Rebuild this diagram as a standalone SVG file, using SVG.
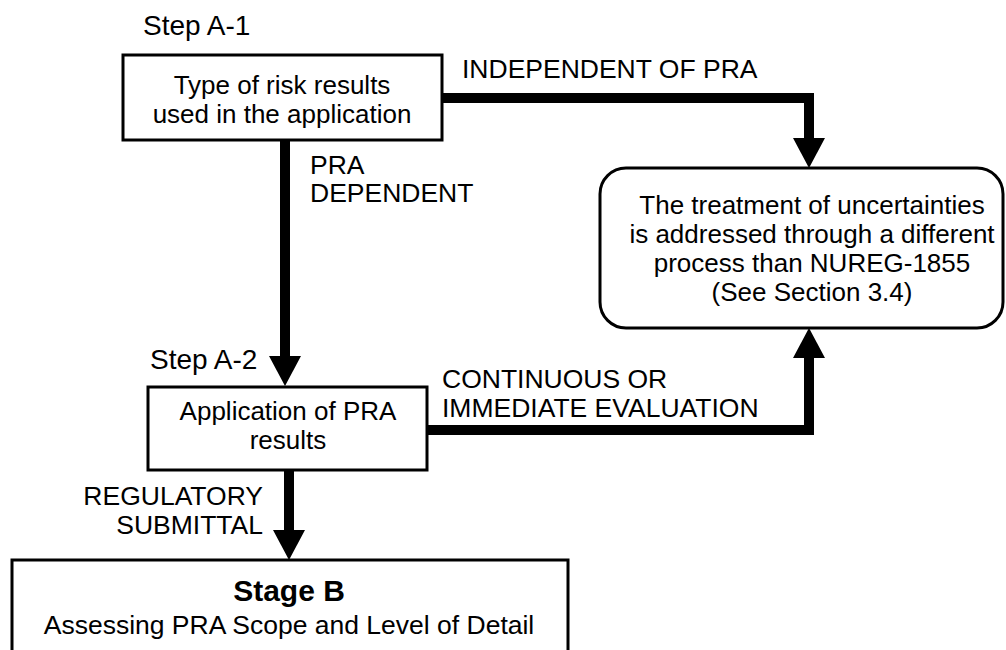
<svg xmlns="http://www.w3.org/2000/svg" width="1006" height="650" viewBox="0 0 1006 650">
  <style>
    text { font-family: "Liberation Sans", Arial, sans-serif; font-size: 26px; fill: #000; }
    .c { text-anchor: middle; }
    .r { text-anchor: end; }
    .lbl { font-size: 26.5px; }
    .step { font-size: 28px; }
    .title { font-size: 30px; font-weight: bold; }
    .box { fill: #fff; stroke: #000; stroke-width: 3; }
    .flow { fill: none; stroke: #000; stroke-width: 10; stroke-linejoin: miter; }
  </style>
  <defs>
    <marker id="head" markerUnits="userSpaceOnUse" markerWidth="31" markerHeight="32" refX="0" refY="16" orient="auto">
      <path d="M0,0 L30,16 L0,32 Z" fill="#000"/>
    </marker>
  </defs>

  <rect width="1006" height="650" fill="#fff"/>

  <g id="connectors">
    <path class="flow" d="M442,98 H809 V138" marker-end="url(#head)"/>
    <path class="flow" d="M285,140 V356" marker-end="url(#head)"/>
    <path class="flow" d="M427,430 H809 V358" marker-end="url(#head)"/>
    <path class="flow" d="M289,470 V530" marker-end="url(#head)"/>
    <text class="lbl" x="462" y="78">INDEPENDENT OF PRA</text>
    <text class="lbl" x="310" y="174">PRA</text>
    <text class="lbl" x="310" y="202">DEPENDENT</text>
    <text class="lbl" x="442" y="388">CONTINUOUS OR</text>
    <text class="lbl" x="442" y="417">IMMEDIATE EVALUATION</text>
    <text class="lbl r" x="263" y="505">REGULATORY</text>
    <text class="lbl r" x="263" y="534">SUBMITTAL</text>
  </g>

  <g id="step-a1">
    <text class="step" x="143" y="35">Step A-1</text>
    <rect class="box" x="123" y="55" width="319" height="85"/>
    <text class="c" x="282" y="94">Type of risk results</text>
    <text class="c" x="282" y="123">used in the application</text>
  </g>

  <g id="other-process">
    <rect class="box" x="600" y="168" width="403" height="160" rx="26" ry="26"/>
    <text class="c" x="812" y="214">The treatment of uncertainties</text>
    <text class="c" x="812" y="243">is addressed through a different</text>
    <text class="c" x="812" y="272">process than NUREG-1855</text>
    <text class="c" x="812" y="301">(See Section 3.4)</text>
  </g>

  <g id="step-a2">
    <text class="step" x="150" y="369">Step A-2</text>
    <rect class="box" x="148" y="387" width="279" height="83"/>
    <text class="c" x="288" y="420">Application of PRA</text>
    <text class="c" x="288" y="449">results</text>
  </g>

  <g id="stage-b">
    <rect class="box" x="12" y="560" width="556" height="120"/>
    <text class="c title" x="289" y="601">Stage B</text>
    <text class="c lbl" x="289" y="634">Assessing PRA Scope and Level of Detail</text>
  </g>
</svg>
